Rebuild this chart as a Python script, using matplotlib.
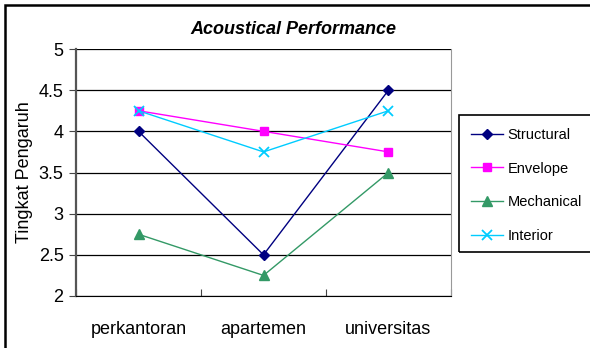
import matplotlib
matplotlib.use("Agg")
import matplotlib.pyplot as plt
from matplotlib.patches import Rectangle

plt.rcParams['font.family'] = ['Liberation Sans', 'DejaVu Sans']

categories = ["perkantoran", "apartemen", "universitas"]
structural = [4.0, 2.5, 4.5]
envelope = [4.25, 4.0, 3.75]
mechanical = [2.75, 2.25, 3.5]
interior = [4.25, 3.75, 4.25]

W, H = 590, 348
fig = plt.figure(figsize=(W / 100, H / 100), dpi=100)

# plot area in pixel units
left, right, top, bottom = 76, 451, 49, 296
ax = fig.add_axes([left / W, 1 - bottom / H, (right - left) / W, (bottom - top) / H])

x = range(len(categories))
ax.plot(x, structural, color='#000080', marker='D', markersize=5, lw=1, label="Structural")
ax.plot(x, envelope, color='#FF00FF', marker='s', markersize=6, lw=1, label="Envelope")
ax.plot(x, mechanical, color='#339966', marker='^', markersize=7, lw=1, label="Mechanical")
ax.plot(x, interior, color='#00CCFF', marker='x', markersize=7, mew=1.3, lw=1, label="Interior")

ax.set_xlim(-0.5, 2.5)
ax.set_ylim(2, 5)
ax.set_yticks([2, 2.5, 3, 3.5, 4, 4.5, 5])
ax.set_yticklabels(["2", "2.5", "3", "3.5", "4", "4.5", "5"])
ax.set_xticks([-0.5, 0.5, 1.5, 2.5], minor=False)
ax.set_xticklabels([])
ax.set_xticks(list(x), minor=True)
ax.set_xticklabels(categories, minor=True)
ax.tick_params(axis='x', which='minor', length=0, pad=18, labelsize=13)
ax.tick_params(axis='x', which='major', length=5, color='#444444', direction='in')
ax.tick_params(axis='y', length=5, color='#444444', direction='out', labelsize=13, pad=4)
ax.yaxis.grid(True, color='black', lw=0.9)
ax.set_axisbelow(True)

ax.spines['top'].set_visible(False)
ax.spines['left'].set_color('#555555')
ax.spines['left'].set_linewidth(1.6)
ax.spines['bottom'].set_color('black')
ax.spines['right'].set_color('#999999')

ax.set_ylabel("Tingkat Pengaruh", fontsize=13, labelpad=4)
fig.text(293 / W, 1 - 30 / H, "Acoustical Performance", ha='center', va='center',
         fontsize=13, fontweight='bold', fontstyle='italic')

# outer chart frame, running off the right and bottom edges
fig.patches.append(Rectangle((5 / W, -0.1), 1.0, 1 - 4.5 / H + 0.1, transform=fig.transFigure,
                             fill=False, edgecolor='black', lw=1.8))

# legend box, also running off the right edge
fig.patches.append(Rectangle((459 / W, 1 - 252 / H), 0.5, (252 - 115) / H, transform=fig.transFigure,
                             fill=False, edgecolor='black', lw=1.2))
fig.legend(loc='upper left', bbox_to_anchor=(471 / W, 1 - 128 / H), frameon=False,
           fontsize=10.5, handlelength=2.2, handletextpad=0.3, labelspacing=1.34,
           borderaxespad=0, borderpad=0)

fig.savefig("out.png", dpi=100)
